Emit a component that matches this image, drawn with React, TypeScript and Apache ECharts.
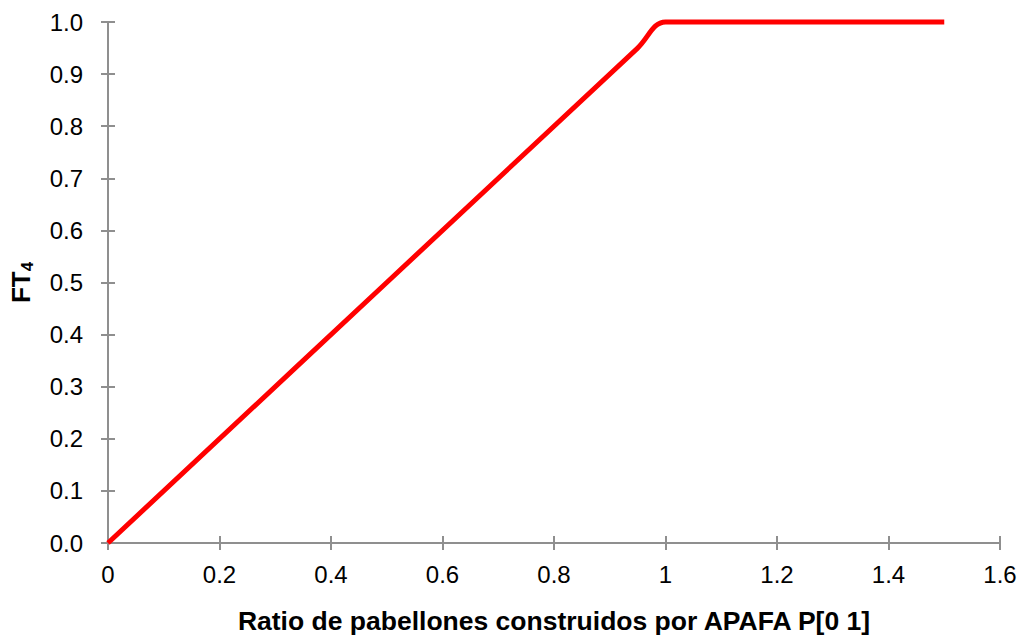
import React, { useEffect, useRef } from "react";
import * as echarts from "echarts";

const xValues = [0, 0.5, 0.95, 1.0, 1.05, 1.5];
const yValues = [0, 0.5, 0.95, 1.0, 1.0, 1.0];
const xTitle = "Ratio de pabellones construidos por APAFA P[0 1]";

const axisColor = "#8f8f8f";
const font = "Liberation Sans, Arial, sans-serif";

export default function App() {
  const ref = useRef<HTMLDivElement>(null);
  useEffect(() => {
    if (!ref.current) return;
    const chart = echarts.init(ref.current, undefined, { renderer: "svg" });
    const data = xValues.map((x, i) => [x, yValues[i]]);
    const tickStyle = { show: true, inside: true, length: 7, lineStyle: { color: axisColor, width: 2 } };
    const lineStyle = { show: true, lineStyle: { color: axisColor, width: 2 } };
    chart.setOption({
      animation: false,
      backgroundColor: "#ffffff",
      grid: { left: 106, right: 25, top: 22, bottom: 98, containLabel: false },
      xAxis: [
        {
          type: "value", min: 0, max: 1.6, interval: 0.2,
          axisLine: lineStyle, axisTick: tickStyle, splitLine: { show: false },
          axisLabel: { color: "#000", fontFamily: font, fontSize: 24, margin: 19 },
          name: xTitle, nameLocation: "middle", nameGap: 64,
          nameTextStyle: { color: "#000", fontFamily: font, fontSize: 26.5, fontWeight: "bold" },
        },
        {
          type: "value", position: "top", min: 0, max: 1.6, interval: 0.2,
          axisLine: lineStyle, axisTick: tickStyle, axisLabel: { show: false }, splitLine: { show: false },
        },
      ],
      yAxis: [
        {
          type: "value", min: 0, max: 1, interval: 0.1,
          axisLine: lineStyle, axisTick: tickStyle, splitLine: { show: false },
          axisLabel: { color: "#000", fontFamily: font, fontSize: 24, margin: 25, formatter: (v: number) => v.toFixed(1) },
          name: "{a|FT}{b|4}", nameLocation: "middle", nameGap: 72, nameRotate: 90,
          nameTextStyle: {
            rich: {
              a: { fontFamily: font, fontSize: 26, fontWeight: "bold", color: "#000", lineHeight: 30, verticalAlign: "middle" },
              b: { fontFamily: font, fontSize: 17, fontWeight: "bold", color: "#000", verticalAlign: "bottom", padding: [12, 0, 0, 0] },
            },
          },
        },
        {
          type: "value", position: "right", min: 0, max: 1, interval: 0.1,
          axisLine: lineStyle, axisTick: tickStyle, axisLabel: { show: false }, splitLine: { show: false },
        },
      ],
      series: [
        {
          type: "line", data, smooth: 0.4, showSymbol: false, clip: false,
          lineStyle: { color: "#ff0000", width: 5 },
        },
      ],
    });
    return () => chart.dispose();
  }, []);
  return <div ref={ref} style={{ position: "fixed", left: 0, top: 0, width: 1025, height: 641 }} />;
}
